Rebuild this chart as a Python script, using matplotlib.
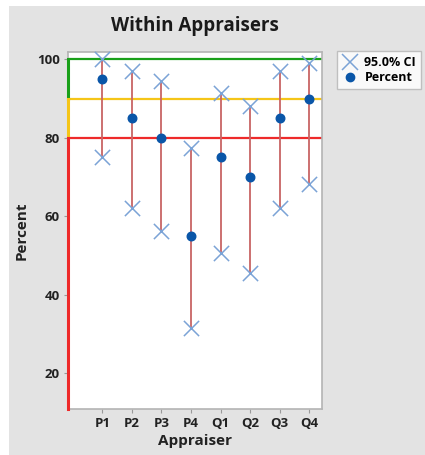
import matplotlib
matplotlib.use("Agg")
import matplotlib.pyplot as plt
from matplotlib.patches import Rectangle
from matplotlib.lines import Line2D

plt.rcParams["font.family"] = ["Open Sans", "DejaVu Sans"]

appraisers = ["P1", "P2", "P3", "P4", "Q1", "Q2", "Q3", "Q4"]
percent = [95.0, 85.0, 80.0, 55.0, 75.0, 70.0, 85.0, 90.0]
ci_upper = [100.0, 97.0, 94.5, 77.5, 91.5, 88.0, 97.0, 99.0]
ci_lower = [75.2, 62.1, 56.3, 31.4, 50.7, 45.4, 62.1, 68.2]
y_ticks = [20, 40, 60, 80, 100]

W, H = 425, 455
fig = plt.figure(figsize=(W / 100, H / 100), dpi=100, facecolor="white")
fig.patches.append(Rectangle((9 / W, 0), 1, 1 - 6 / H, transform=fig.transFigure,
                             facecolor="#e3e3e3", edgecolor="none", zorder=-10))

l, r, t, b = 68, 322, 52, 409
ax = fig.add_axes([l / W, 1 - b / H, (r - l) / W, (b - t) / H])
ax.set_facecolor("white")

x = list(range(1, len(appraisers) + 1))
xmin, xmax = -0.16, 8.43
ymin, ymax = 10.8, 101.9
ax.set_xlim(xmin, xmax)
ax.set_ylim(ymin, ymax)

# reference zones
ax.axhline(100, color="#1aa01a", lw=1.6, zorder=2)
ax.axhline(90, color="#f5c518", lw=1.6, zorder=2)
ax.axhline(80, color="#ee2a2a", lw=1.6, zorder=2)
ax.plot([xmin, xmin], [90, 100], color="#1aa01a", lw=2.2, zorder=3, clip_on=False)
ax.plot([xmin, xmin], [80, 90], color="#f5c518", lw=2.2, zorder=3, clip_on=False)
ax.plot([xmin, xmin], [ymin, 80], color="#ee2a2a", lw=2.2, zorder=3, clip_on=False)

# CI lines
for xi, lo, hi in zip(x, ci_lower, ci_upper):
    ax.plot([xi, xi], [lo, hi], color="#c86464", lw=1.3, zorder=3)
ax.scatter(x, ci_upper, marker="x", s=120, color="#7ba3d6", linewidths=1.1, zorder=4, clip_on=False)
ax.scatter(x, ci_lower, marker="x", s=120, color="#7ba3d6", linewidths=1.1, zorder=4, clip_on=False)
ax.scatter(x, percent, marker="o", s=38, color="#0a56a8", zorder=5)

ax.set_xticks(x)
ax.set_xticklabels(appraisers)
ax.set_yticks(y_ticks)
for lab in ax.get_xticklabels() + ax.get_yticklabels():
    lab.set_fontweight("bold")
    lab.set_fontsize(9.5)
    lab.set_color("#222222")
ax.tick_params(axis="both", direction="out", length=3, color="#9a9a9a", width=0.8, pad=3)

for s in ["top", "right", "bottom", "left"]:
    ax.spines[s].set_color("#b4b4b4")
    ax.spines[s].set_linewidth(1.2)

ax.set_xlabel("Appraiser", fontsize=11, fontweight="bold", color="#222222", labelpad=3)
ax.set_ylabel("Percent", fontsize=11, fontweight="bold", color="#222222", labelpad=6)
fig.text(195 / W, 1 - 26 / H, "Within Appraisers", ha="center", va="center",
         fontsize=13.5, fontweight="bold", color="#1a1a1a")

handles = [
    Line2D([], [], marker="x", ls="none", color="#7ba3d6", markersize=11, markeredgewidth=1.1, label="95.0% CI"),
    Line2D([], [], marker="o", ls="none", color="#0a56a8", markersize=6, label="Percent"),
]
leg = fig.legend(handles=handles, loc="upper left", bbox_to_anchor=(337 / W, 1 - 51 / H),
                 frameon=True, fancybox=False, prop={"weight": "bold", "size": 9},
                 handlelength=1.3, handletextpad=0.5, borderpad=0.4, labelspacing=0.15,
                 borderaxespad=0)
leg.get_frame().set_edgecolor("#b4b4b4")
leg.get_frame().set_linewidth(1.0)

fig.savefig("out.png", dpi=100, facecolor="white")
